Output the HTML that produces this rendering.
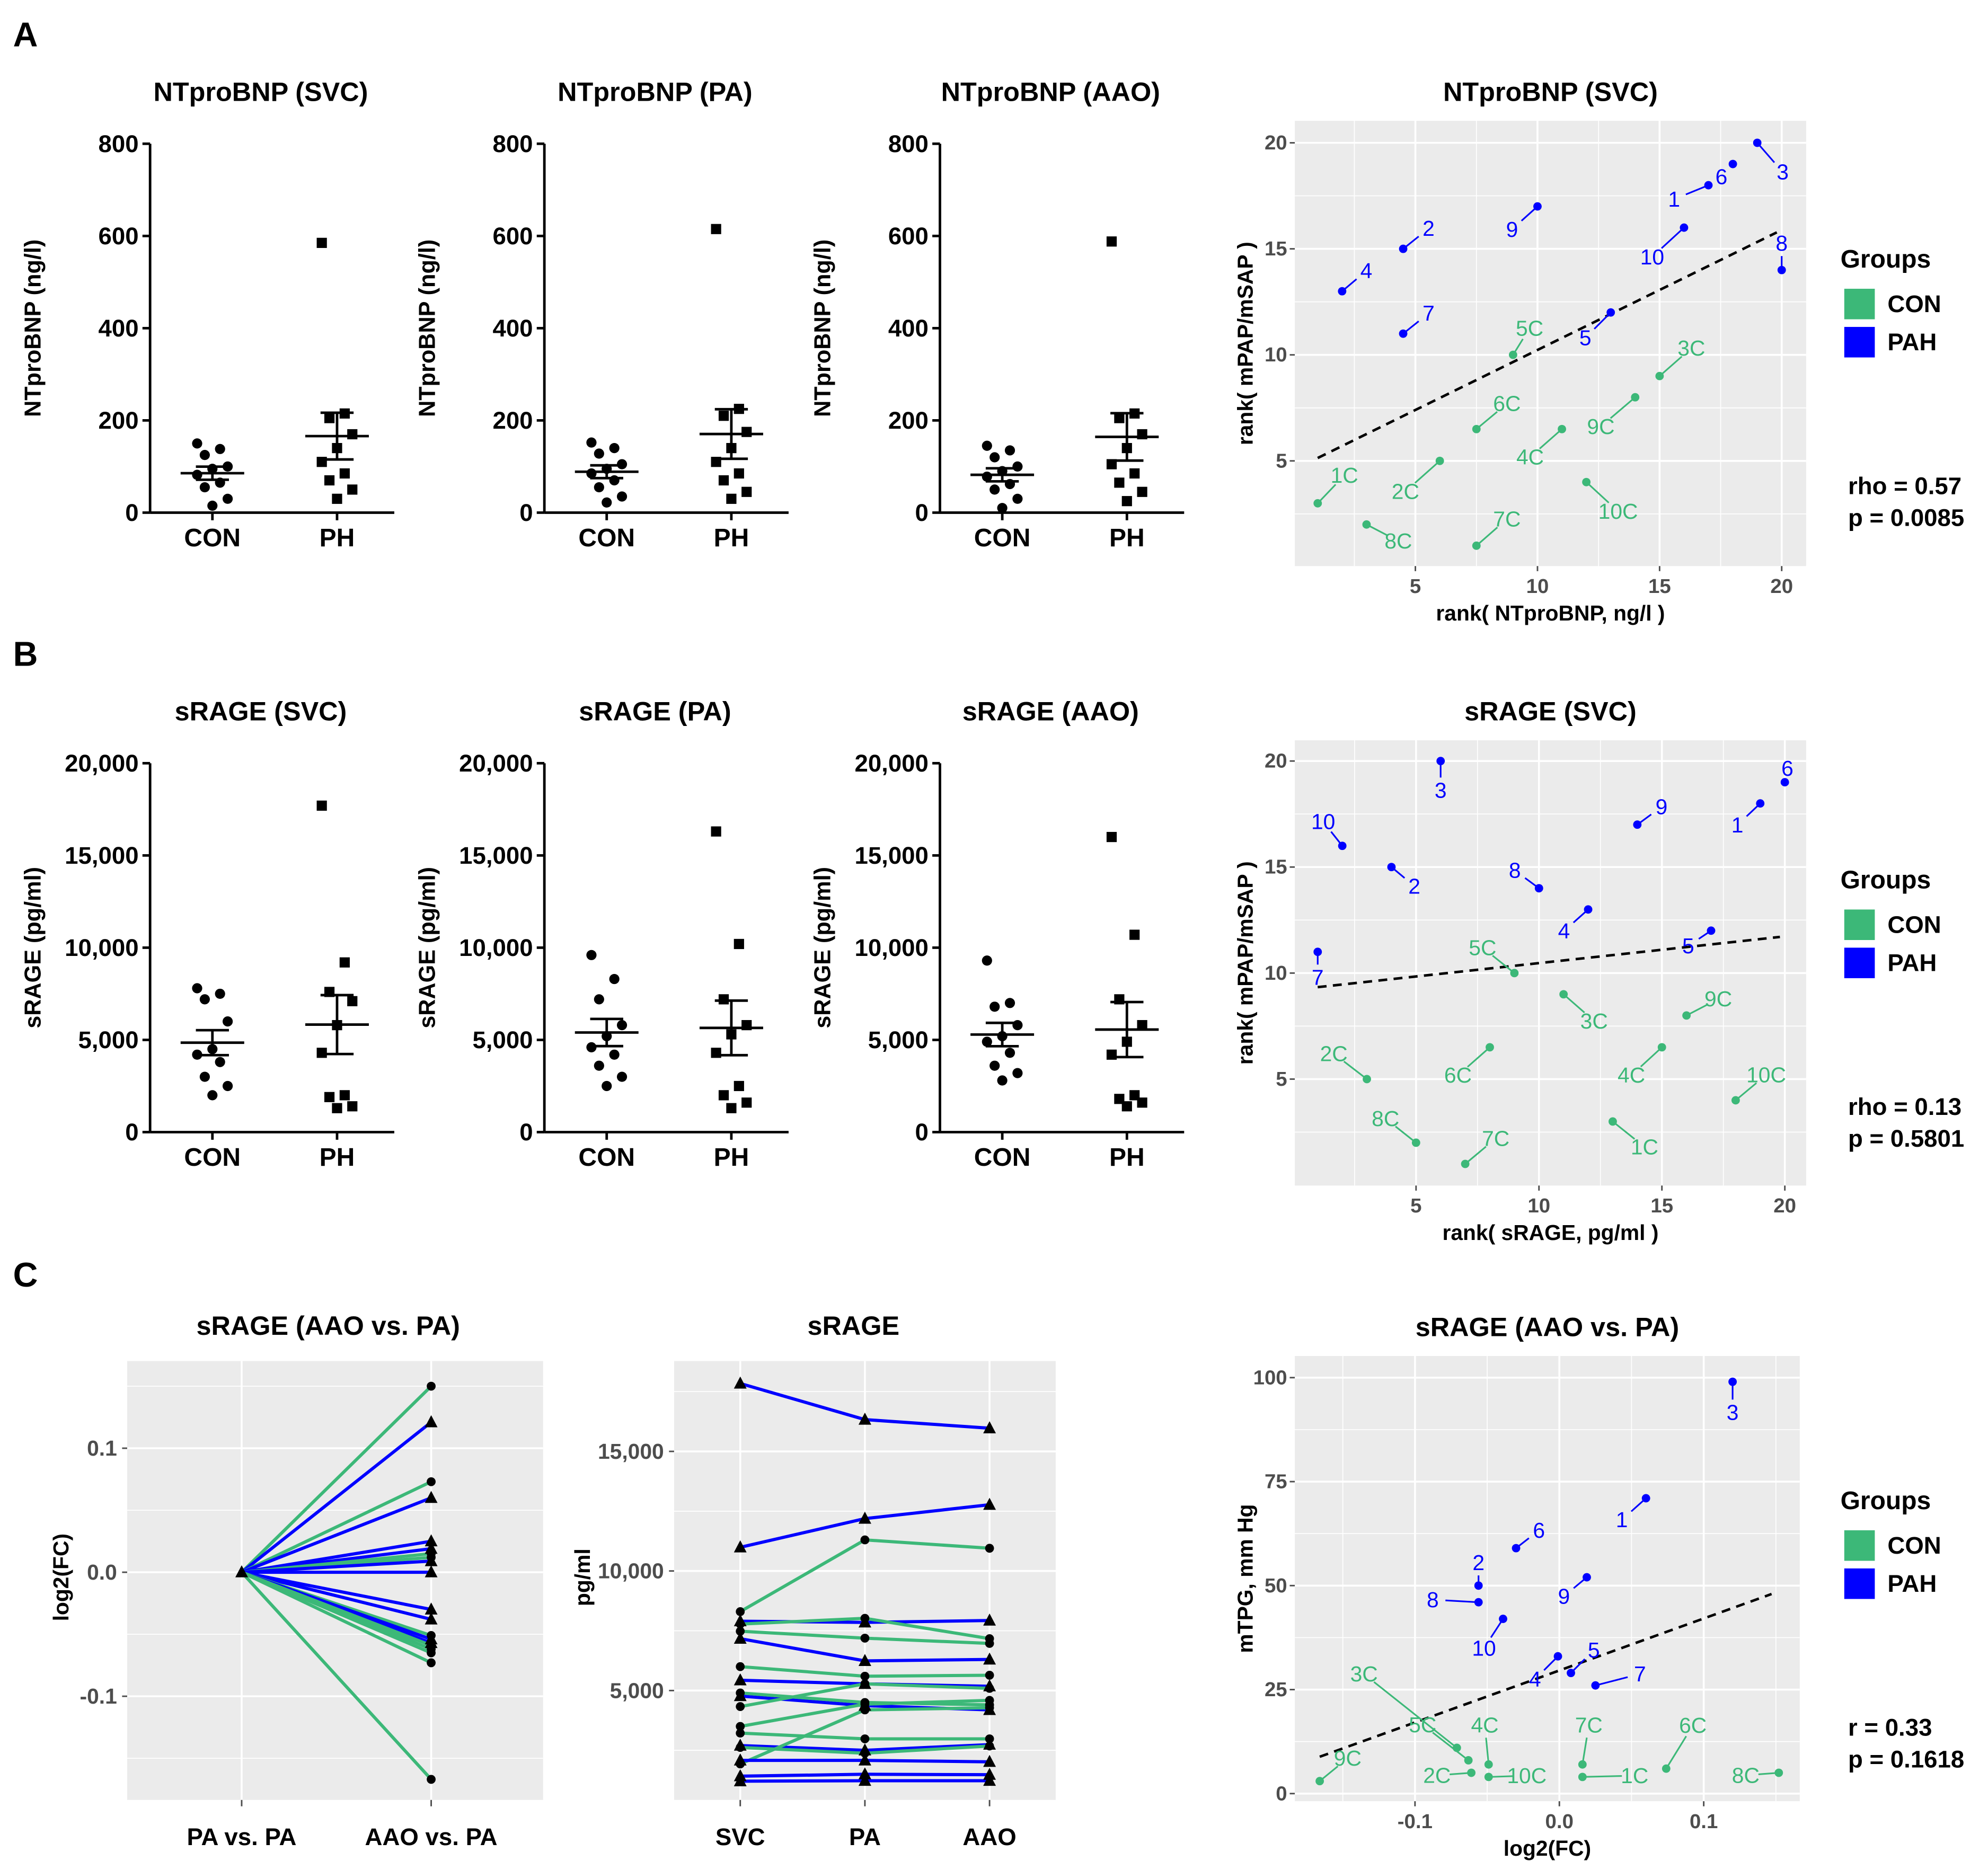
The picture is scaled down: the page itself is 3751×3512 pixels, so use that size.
<!DOCTYPE html>
<html><head><meta charset="utf-8"><style>
html,body{margin:0;padding:0;background:#fff}
svg{display:block;font-family:"Liberation Sans",sans-serif}
</style></head><body>
<svg id="fig" xmlns="http://www.w3.org/2000/svg" width="3751" height="3512" viewBox="0 0 1563 1463" preserveAspectRatio="none">
<rect x="0" y="0" width="1563" height="1463" fill="#fff"/>
</svg>
<script>
// ---------- Panel A dot plot data ----------
const ntCategories = ['CON','PH'];
const ntTicks = [0,200,400,600,800];
const ntSvcCon = [150,138,125,100,95,82,65,55,30,15];
const ntSvcPh = [585,215,205,170,140,110,85,70,50,30];
const ntPaCon = [152,140,128,105,95,85,70,55,35,22];
const ntPaPh = [615,225,210,175,140,110,85,70,45,30];
const ntAaoCon = [145,135,120,100,90,78,62,50,30,10];
const ntAaoPh = [588,215,205,170,140,105,85,65,45,25];
// ---------- Panel B dot plot data ----------
const srTicks = [0,5000,10000,15000,20000];
const srTickLabels = ['0','5,000','10,000','15,000','20,000'];
const srSvcCon = [7800,7500,7200,6000,4500,4200,3800,3000,2500,2000];
const srSvcPh = [17700,9200,7600,7100,5800,4300,2000,1900,1400,1300];
const srPaCon = [9600,8300,7200,5800,5200,4600,4200,3600,3000,2500];
const srPaPh = [16300,10200,7200,5800,5300,4300,2500,2000,1600,1300];
const srAaoCon = [9300,7000,6800,5800,5200,4900,4300,3600,3200,2800];
const srAaoPh = [16000,10700,7200,5800,4900,4200,2000,1800,1600,1400];
// ---------- Scatter A (rank) ----------
const scATicks = [5,10,15,20];
const scALabels = ['3','6','1','8','10','9','2','4','7','5','5C','3C','9C','6C','4C','2C','10C','1C','8C','7C'];
const scAGroup = ['PAH','PAH','PAH','PAH','PAH','PAH','PAH','PAH','PAH','PAH','CON','CON','CON','CON','CON','CON','CON','CON','CON','CON'];
const scAX = [19,18,17,20,16,10,4.5,2,4.5,13,9,15,14,7.5,11,6,12,1,3,7.5];
const scAY = [20,19,18,14,16,17,15,13,11,12,10,9,8,6.5,6.5,5,4,3,2,1];
const scAOff = [[20,23],[-9,10],[-27,11],[0,-21],[-25,23],[-20,18],[20,-16],[19,-16],[20,-16],[-20,20],[13,-21],[25,-22],[-27,23],[24,-20],[-25,22],[-27,24],[25,23],[21,-22],[25,13],[24,-21]];
const scAFit = [4.57,0.566];
// ---------- Scatter B (rank) ----------
const scBLabels = ['3','6','1','9','10','2','8','4','5','7','5C','3C','9C','6C','4C','2C','10C','1C','8C','7C'];
const scBGroup = scAGroup;
const scBX = [6,20,19,14,2,4,10,12,17,1,9,11,16,8,15,3,18,13,5,7];
const scBY = [20,19,18,17,16,15,14,13,12,11,10,9,8,6.5,6.5,5,4,3,2,1];
const scBOff = [[0,23],[2,-11],[-18,17],[19,-14],[-15,-19],[18,15],[-19,-14],[-19,17],[-18,12],[0,20],[-25,-20],[24,21],[25,-13],[-25,22],[-24,22],[-26,-20],[24,-20],[25,20],[-24,-19],[24,-20]];
const scBFit = [9.21,0.126];
// ---------- Panel C1 log2FC ----------
const fcCategories = ['PA vs. PA','AAO vs. PA'];
const fcTicks = [-0.1,0,0.1];
const fcTickLabels = ['-0.1','0.0','0.1'];
const fcValues = [0.150,0.121,0.073,0.060,0.025,0.019,0.015,0.012,0.009,0.000,-0.030,-0.038,-0.051,-0.054,-0.057,-0.059,-0.062,-0.065,-0.073,-0.167];
const fcGroup = ['CON','PAH','CON','PAH','PAH','PAH','CON','CON','PAH','PAH','PAH','PAH','CON','PAH','PAH','CON','CON','CON','CON','CON'];
// ---------- Panel C2 sRAGE paired ----------
const pairCategories = ['SVC','PA','AAO'];
const pairTicks = [5000,10000,15000];
const pairTickLabels = ['5,000','10,000','15,000'];
const pairSvc = [17840,10990,8300,7900,7780,7480,7170,6000,5430,4770,4330,3500,3220,2700,2620,1930,2080,1420,1210,4900];
const pairPa  = [16330,12190,11300,7850,8020,7190,6240,5600,5280,4370,5280,4430,2980,2500,2380,4190,2080,1500,1230,4500];
const pairAao = [15970,12770,10950,7930,7170,6970,6300,5640,5180,4190,5090,4590,2980,2740,2680,4280,2020,1480,1230,4400];
const pairGroup = ['PAH','PAH','CON','PAH','CON','CON','PAH','CON','PAH','PAH','CON','CON','CON','PAH','CON','CON','PAH','PAH','PAH','CON'];
// ---------- Panel C3 scatter ----------
const scCXTicks = [-0.1,0,0.1];
const scCXTickLabels = ['-0.1','0.0','0.1'];
const scCYTicks = [0,25,50,75,100];
const scCLabels = ['3','1','6','9','2','8','10','4','5','7','3C','5C','4C','9C','2C','10C','7C','1C','6C','8C'];
const scCGroup = scAGroup;
const scCX = [0.12,0.06,-0.03,0.019,-0.056,-0.056,-0.039,-0.001,0.008,0.025,-0.071,-0.063,-0.049,-0.166,-0.061,-0.049,0.016,0.016,0.074,0.152];
const scCY = [99,71,59,52,50,46,42,33,29,26,11,8,7,3,5,4,7,4,6,5];
const scCOff = [[0,24],[-19,17],[18,-14],[-18,15],[0,-18],[-36,-2],[-15,23],[-18,18],[18,-18],[35,-9],[-73,-58],[-36,-28],[-3,-31],[22,-18],[-27,2],[30,-1],[5,-31],[41,-1],[21,-34],[-26,2]];
const scCFit = [29.6,125];

const NS='http://www.w3.org/2000/svg';
const root=document.getElementById('fig');
const GREEN='#3cb878', BLUE='#0000ff', GRAY='#4d4d4d';
function mk(tag, attrs, name, parent){
  const el=document.createElementNS(NS,tag);
  for(const k in attrs) el.setAttribute(k, attrs[k]);
  
  
  (parent||root).appendChild(el);
  return el;
}
function txt(x,y,s,o,name,parent){
  o=o||{};
  const el=mk('text',{x:x,y:y,'font-size':o.size||17,'font-weight':o.weight||'bold',fill:o.fill||'#000','text-anchor':o.anchor||'middle','dominant-baseline':'central'},name,parent);
  if(o.rot) el.setAttribute('transform','rotate(-90 '+x+' '+y+')');
  el.textContent=s;
  return el;
}
function line(x1,y1,x2,y2,st,w,name,parent,dash){
  const a={x1:x1,y1:y1,x2:x2,y2:y2,stroke:st,'stroke-width':w};
  if(dash) a['stroke-dasharray']=dash;
  return mk('line',a,name,parent);
}
txt(20,27,'A',{size:27},'panel-label-a');
txt(20,514,'B',{size:27},'panel-label-b');
txt(20,1002,'C',{size:27},'panel-label-c');

function mean(a){return a.reduce((s,v)=>s+v,0)/a.length;}
function sem(a){const m=mean(a);return Math.sqrt(a.reduce((s,v)=>s+(v-m)*(v-m),0)/(a.length-1))/Math.sqrt(a.length);}

function dotPlot(id, ax, top, bottom, max, ticks, tickLabels, con, ph, title, ylab){
  const g=mk('g',{},id);
  const y=v=>bottom-(v/max)*(bottom-top);
  const xs=[ax+49, ax+147];
  txt(ax+87,72+(top-113),title,{size:21},'plot-title',g);
  txt(ax-92,(top+bottom)/2,ylab,{size:18,rot:true},'y-axis-title',g);
  line(ax,top,ax,bottom,'#000',2,'y-axis',g);
  line(ax,bottom,ax+192,bottom,'#000',2,'x-axis',g);
  ticks.forEach((t,i)=>{
    line(ax-6,y(t),ax,y(t),'#000',2,'y-tick',g);
    txt(ax-9,y(t),tickLabels[i],{size:19,anchor:'end'},'y-tick-label',g);
  });
  ntCategories.forEach((c,i)=>{
    line(xs[i],bottom,xs[i],bottom+6,'#000',2,'x-tick',g);
    txt(xs[i],bottom+20,c,{size:20},'x-tick-label',g);
  });
  [con,ph].forEach((arr,gi)=>{
    const cx=xs[gi];
    arr.forEach((v,i)=>{
      const j=(((i*3)%5)-2)*6;
      if(gi===0) mk('circle',{cx:cx+j,cy:y(v),r:4,fill:'#000'},'point-con',g);
      else mk('rect',{x:cx+j-4,y:y(v)-4,width:8,height:8,fill:'#000'},'point-ph',g);
    });
    const m=mean(arr), s=sem(arr);
    line(cx-25,y(m),cx+25,y(m),'#000',2,'mean-line',g);
    line(cx,y(m-s),cx,y(m+s),'#000',2,'sem-bar',g);
    line(cx-13,y(m-s),cx+13,y(m-s),'#000',2,'sem-cap',g);
    line(cx-13,y(m+s),cx+13,y(m+s),'#000',2,'sem-cap',g);
  });
}
const ntLab=ntTicks.map(String);
dotPlot('dotplot-ntprobnp-svc',118,113,403,800,ntTicks,ntLab,ntSvcCon,ntSvcPh,'NTproBNP (SVC)','NTproBNP (ng/l)');
dotPlot('dotplot-ntprobnp-pa',428,113,403,800,ntTicks,ntLab,ntPaCon,ntPaPh,'NTproBNP (PA)','NTproBNP (ng/l)');
dotPlot('dotplot-ntprobnp-aao',739,113,403,800,ntTicks,ntLab,ntAaoCon,ntAaoPh,'NTproBNP (AAO)','NTproBNP (ng/l)');
dotPlot('dotplot-srage-svc',118,600,890,20000,srTicks,srTickLabels,srSvcCon,srSvcPh,'sRAGE (SVC)','sRAGE (pg/ml)');
dotPlot('dotplot-srage-pa',428,600,890,20000,srTicks,srTickLabels,srPaCon,srPaPh,'sRAGE (PA)','sRAGE (pg/ml)');
dotPlot('dotplot-srage-aao',739,600,890,20000,srTicks,srTickLabels,srAaoCon,srAaoPh,'sRAGE (AAO)','sRAGE (pg/ml)');

function panelBg(g,x0,y0,x1,y1){
  mk('rect',{x:x0,y:y0,width:x1-x0,height:y1-y0,fill:'#ebebeb'},'panel-background',g);
}
function legend(y0){
  const g=mk('g',{},'legend');
  txt(1447,y0,'Groups',{size:20,anchor:'start'},'legend-title',g);
  mk('rect',{x:1450,y:y0+23,width:24,height:24,fill:GREEN},'legend-key-con',g);
  txt(1484,y0+35,'CON',{size:19,anchor:'start'},'legend-label-con',g);
  mk('rect',{x:1450,y:y0+53,width:24,height:24,fill:BLUE},'legend-key-pah',g);
  txt(1484,y0+65,'PAH',{size:19,anchor:'start'},'legend-label-pah',g);
}
function labeledScatter(id,box,xf,yf,xt,xtl,yt,ytl,xminor,yminor,X,Y,L,G,OFF,fit,fitRange,title,xlab,ylab,st1,st2,stY,legY){
  const g=mk('g',{},id);
  panelBg(g,box[0],box[1],box[2],box[3]);
  xminor.forEach(v=>line(xf(v),box[1],xf(v),box[3],'#fff',0.7,'minor-gridline',g));
  yminor.forEach(v=>line(box[0],yf(v),box[2],yf(v),'#fff',0.7,'minor-gridline',g));
  xt.forEach((v,i)=>{
    line(xf(v),box[1],xf(v),box[3],'#fff',1.5,'major-gridline',g);
    line(xf(v),box[3],xf(v),box[3]+4,GRAY,1.2,'x-tick',g);
    txt(xf(v),box[3]+16,xtl[i],{size:16,fill:GRAY},'x-tick-label',g);
  });
  yt.forEach((v,i)=>{
    line(box[0],yf(v),box[2],yf(v),'#fff',1.5,'major-gridline',g);
    line(box[0]-4,yf(v),box[0],yf(v),GRAY,1.2,'y-tick',g);
    txt(box[0]-6,yf(v),ytl[i],{size:16,fill:GRAY,anchor:'end'},'y-tick-label',g);
  });
  txt((box[0]+box[2])/2,box[1]-23,title,{size:21},'plot-title',g);
  txt((box[0]+box[2])/2,box[3]+37,xlab,{size:17},'x-axis-title',g);
  txt(box[0]-39,(box[1]+box[3])/2,ylab,{size:17,rot:true},'y-axis-title',g);
  line(xf(fitRange[0]),yf(fit[0]+fit[1]*fitRange[0]),xf(fitRange[1]),yf(fit[0]+fit[1]*fitRange[1]),'#000',2,'regression-line',g,'7,5');
  X.forEach((v,i)=>{
    const px=xf(v), py=yf(Y[i]);
    const col=G[i]==='CON'?GREEN:BLUE;
    const dx=OFF[i][0], dy=OFF[i][1];
    const d=Math.sqrt(dx*dx+dy*dy);
    if(d>14){
      const k=(d-10)/d;
      line(px,py,px+dx*k,py+dy*k,col,1.3,'label-connector',g);
    }
    mk('circle',{cx:px,cy:py,r:3.3,fill:col},'point-'+L[i].toLowerCase(),g);
    txt(px+dx,py+dy,L[i],{size:17,weight:'normal',fill:col},'point-label',g);
  });
  txt(1453,stY,st1,{size:19,anchor:'start'},'stat-r',g);
  txt(1453,stY+25,st2,{size:19,anchor:'start'},'stat-p',g);
  legend(legY);
}
const rankLabs=scATicks.map(String);
labeledScatter('scatter-ntprobnp-rank',[1018,95,1420,445],v=>1036+(v-1)*19.2,v=>429-(v-1)*16.67,scATicks,rankLabs,scATicks,rankLabs,[2.5,7.5,12.5,17.5],[2.5,7.5,12.5,17.5],scAX,scAY,scALabels,scAGroup,scAOff,scAFit,[1,19.8],'NTproBNP (SVC)','rank( NTproBNP, ng/l )','rank( mPAP/mSAP )','rho = 0.57','p = 0.0085',382,204);
labeledScatter('scatter-srage-rank',[1018,582,1420,932],v=>1036+(v-1)*19.33,v=>915-(v-1)*16.67,scATicks,rankLabs,scATicks,rankLabs,[2.5,7.5,12.5,17.5],[2.5,7.5,12.5,17.5],scBX,scBY,scBLabels,scBGroup,scBOff,scBFit,[1,19.8],'sRAGE (SVC)','rank( sRAGE, pg/ml )','rank( mPAP/mSAP )','rho = 0.13','p = 0.5801',870,692);
labeledScatter('scatter-srage-fc-mtpg',[1018,1066,1415,1416],v=>1226+v*1135,v=>1410-v*3.27,scCXTicks,scCXTickLabels,scCYTicks,scCYTicks.map(String),[-0.15,-0.05,0.05,0.15],[12.5,37.5,62.5,87.5],scCX,scCY,scCLabels,scCGroup,scCOff,scCFit,[-0.166,0.147],'sRAGE (AAO vs. PA)','log2(FC)','mTPG, mm Hg','r = 0.33','p = 0.1618',1358,1180);

function triangle(g,x,y,name){
  mk('polygon',{points:(x)+','+(y-5.5)+' '+(x-5)+','+(y+4)+' '+(x+5)+','+(y+4),fill:'#000'},name,g);
}
// C1
(function(){
  const g=mk('g',{},'fold-change-plot');
  const box=[100,1070,427,1415];
  const xf=i=>190+i*149, yf=v=>1236-v*975;
  panelBg(g,box[0],box[1],box[2],box[3]);
  [-0.15,-0.05,0.05,0.15].forEach(v=>line(box[0],yf(v),box[2],yf(v),'#fff',0.7,'minor-gridline',g));
  fcTicks.forEach((v,i)=>{
    line(box[0],yf(v),box[2],yf(v),'#fff',1.5,'major-gridline',g);
    line(box[0]-4,yf(v),box[0],yf(v),GRAY,1.2,'y-tick',g);
    txt(box[0]-8,yf(v),fcTickLabels[i],{size:17,fill:GRAY,anchor:'end'},'y-tick-label',g);
  });
  fcCategories.forEach((c,i)=>{
    line(xf(i),box[1],xf(i),box[3],'#fff',1.5,'major-gridline',g);
    line(xf(i),box[3],xf(i),box[3]+5,GRAY,1.2,'x-tick',g);
    txt(xf(i),box[3]+29,c,{size:19},'x-tick-label',g);
  });
  txt(258,1042,'sRAGE (AAO vs. PA)',{size:21},'plot-title',g);
  txt(48,1240,'log2(FC)',{size:17,rot:true},'y-axis-title',g);
  fcValues.forEach((v,i)=>{
    line(xf(0),yf(0),xf(1),yf(v),fcGroup[i]==='CON'?GREEN:BLUE,2.5,'fc-line',g);
  });
  fcValues.forEach((v,i)=>{
    if(fcGroup[i]==='CON') mk('circle',{cx:xf(1),cy:yf(v),r:3.5,fill:'#000'},'fc-point',g);
    else triangle(g,xf(1),yf(v),'fc-point');
  });
  triangle(g,xf(0),yf(0),'fc-origin');
})();
// C2
(function(){
  const g=mk('g',{},'paired-srage-plot');
  const box=[530,1070,830,1415];
  const xf=i=>582+i*98, yf=v=>1423-v*0.0188;
  panelBg(g,box[0],box[1],box[2],box[3]);
  [2500,7500,12500,17500].forEach(v=>line(box[0],yf(v),box[2],yf(v),'#fff',0.7,'minor-gridline',g));
  pairTicks.forEach((v,i)=>{
    line(box[0],yf(v),box[2],yf(v),'#fff',1.5,'major-gridline',g);
    line(box[0]-4,yf(v),box[0],yf(v),GRAY,1.2,'y-tick',g);
    txt(box[0]-8,yf(v),pairTickLabels[i],{size:17,fill:GRAY,anchor:'end'},'y-tick-label',g);
  });
  pairCategories.forEach((c,i)=>{
    line(xf(i),box[1],xf(i),box[3],'#fff',1.5,'major-gridline',g);
    line(xf(i),box[3],xf(i),box[3]+5,GRAY,1.2,'x-tick',g);
    txt(xf(i),box[3]+29,c,{size:19},'x-tick-label',g);
  });
  txt(671,1042,'sRAGE',{size:21},'plot-title',g);
  txt(458,1240,'pg/ml',{size:17,rot:true},'y-axis-title',g);
  pairSvc.forEach((v,i)=>{
    const vals=[v,pairPa[i],pairAao[i]];
    mk('polyline',{points:vals.map((u,k)=>xf(k)+','+yf(u)).join(' '),fill:'none',stroke:pairGroup[i]==='CON'?GREEN:BLUE,'stroke-width':2.5},'pair-line',g);
  });
  pairSvc.forEach((v,i)=>{
    [v,pairPa[i],pairAao[i]].forEach((u,k)=>{
      if(pairGroup[i]==='CON') mk('circle',{cx:xf(k),cy:yf(u),r:3.5,fill:'#000'},'pair-point',g);
      else triangle(g,xf(k),yf(u),'pair-point');
    });
  });
})();
</script>
</body></html>
